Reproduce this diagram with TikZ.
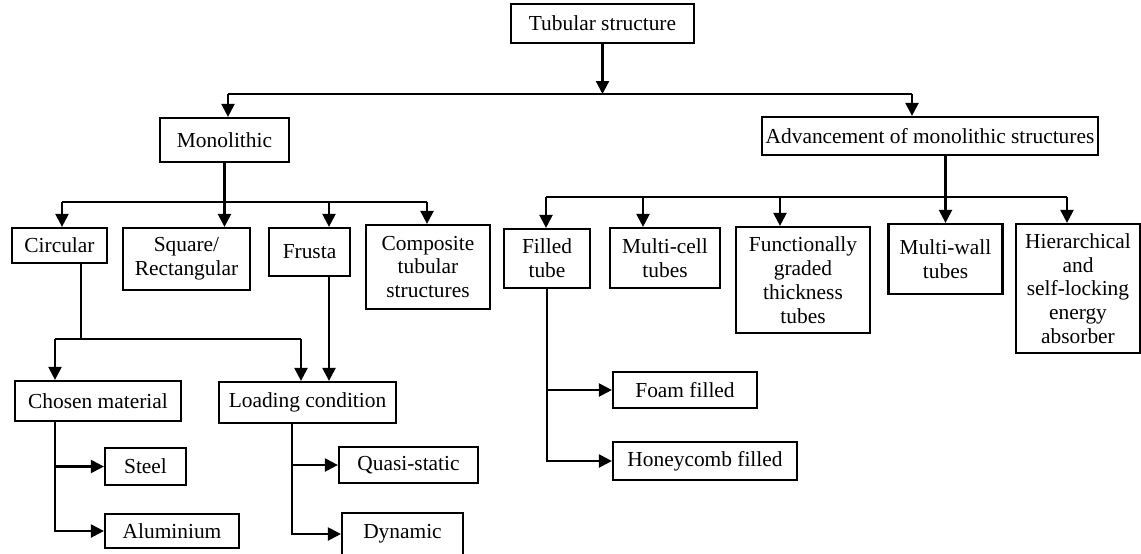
\documentclass[tikz,border=0pt]{standalone}
\usepackage{fontspec}
\setmainfont{Liberation Serif}
\usetikzlibrary{arrows.meta}

\begin{document}
\begin{tikzpicture}[x=0.5pt,y=-0.5pt,line width=1.1pt]
      \useasboundingbox (0,0) rectangle (1141,553);
      \begin{scope}[every node/.style={draw,line width=1.1pt,align=center,inner sep=0pt,
          font=\fontsize{10.7}{11.9}\selectfont}]
        \node[minimum width=91.5pt,minimum height=19.5pt] (tub) at (602.5, 23.5) {Tubular structure};
        \node[minimum width=64.5pt,minimum height=22pt] (mono) at (224.5, 140) {Monolithic};
        \node[minimum width=168pt,minimum height=19pt] (adv) at (930, 136) {Advancement of monolithic structures};
        % first row under monolithic
        \node[minimum width=47.5pt,minimum height=17.5pt] (circ) at (59.5, 245.5) {Circular};
        \node[minimum width=63.5pt,minimum height=31pt] (sq) at (186.5, 259) {Square/\\Rectangular};
        \node[minimum width=40.5pt,minimum height=24pt] (fru) at (309.5, 252) {Frusta};
        \node[minimum width=62pt,minimum height=42pt] (comp) at (428, 267) {Composite\\tubular\\structures};
        % first row under advancement
        \node[minimum width=43pt,minimum height=29.5pt] (filled) at (547, 258.5) {Filled\\tube};
        \node[minimum width=55pt,minimum height=30pt] (mcell) at (665, 258) {Multi-cell\\tubes};
        \node[minimum width=67pt,minimum height=53pt] (func) at (803, 280) {Functionally\\graded\\thickness\\tubes};
        \node[minimum width=57pt,minimum height=35pt] (mwall) at (945.5, 259) {Multi-wall\\tubes};
        \node[minimum width=62pt,minimum height=64.5pt] (hier) at (1078, 288.5) {Hierarchical\\and\\self-locking\\energy\\absorber};
        % lower rows
        \node[minimum width=83pt,minimum height=20pt] (chosen) at (98, 401) {Chosen material};
        \node[minimum width=88.5pt,minimum height=20.5pt] (load) at (307.5, 402.5) {Loading condition};
        \node[minimum width=40.5pt,minimum height=18.5pt] (steel) at (145.5, 466.5) {Steel};
        \node[minimum width=67pt,minimum height=17pt] (alu) at (172, 531) {Aluminium};
        \node[minimum width=69.5pt,minimum height=18pt] (quasi) at (408.5, 465) {Quasi-static};
        \node[minimum width=60.5pt,minimum height=21pt] (dyn) at (402.5, 534) {Dynamic};
        \node[minimum width=72pt,minimum height=18pt] (foam) at (685, 390) {Foam filled};
        \node[minimum width=92pt,minimum height=19pt] (honey) at (705, 461) {Honeycomb filled};
      \end{scope}
      \begin{scope}[>={Triangle[length=6.5pt,width=6.5pt]}]
        % bar coordinates
        \coordinate (b0l) at (228, 94);
        \coordinate (b0r) at (912, 94);
        \coordinate (b1l) at (62, 202);
        \coordinate (b1f) at (329, 202);
        \coordinate (b1r) at (427, 202);
        \coordinate (b2l) at (546, 197);
        \coordinate (b2a) at (643, 197);
        \coordinate (b2b) at (780, 197);
        \coordinate (b2r) at (1067, 197);
        \coordinate (b3c) at (81, 339);
        \coordinate (b3l) at (55, 339);
        \coordinate (b3r) at (301, 339);
        \coordinate (lv) at (292, 0);
        \draw[->] (tub) -- (tub |- b0l);
        \draw (b0l) -- (b0r);
        \draw[->] (b0l) -- (b0l |- mono.north);
        \draw[->] (b0r) -- (b0r |- adv.north);
        \draw[->] (mono) -- (mono |- sq.north);
        \draw (b1l) -- (b1r);
        \draw[->] (b1l) -- (b1l |- circ.north);
        \draw[->] (b1f) -- (b1f |- fru.north);
        \draw[->] (b1r) -- (b1r |- comp.north);
        \draw[->] (adv.south -| mwall) -- (mwall.north);
        \draw (b2l) -- (b2r);
        \draw[->] (b2l) -- (b2l |- filled.north);
        \draw[->] (b2a) -- (b2a |- mcell.north);
        \draw[->] (b2b) -- (b2b |- func.north);
        \draw[->] (b2r) -- (b2r |- hier.north);
        \draw (circ.south -| b3c) -- (b3c);
        \draw (b3l) -- (b3r);
        \draw[->] (b3l) -- (b3l |- chosen.north);
        \draw[->] (b3r) -- (b3r |- load.north);
        \draw[->] (fru.south -| b1f) -- (b1f |- load.north);
        \draw[->] (chosen.south -| b3l) |- (steel);
        \draw[->] (chosen.south -| b3l) |- (alu);
        \draw[->] (load.south -| lv) |- (quasi);
        \draw[->] (load.south -| lv) |- (dyn);
        \draw[->] (filled) |- (foam);
        \draw[->] (filled) |- (honey);
      \end{scope}
    \end{tikzpicture}
\end{document}
